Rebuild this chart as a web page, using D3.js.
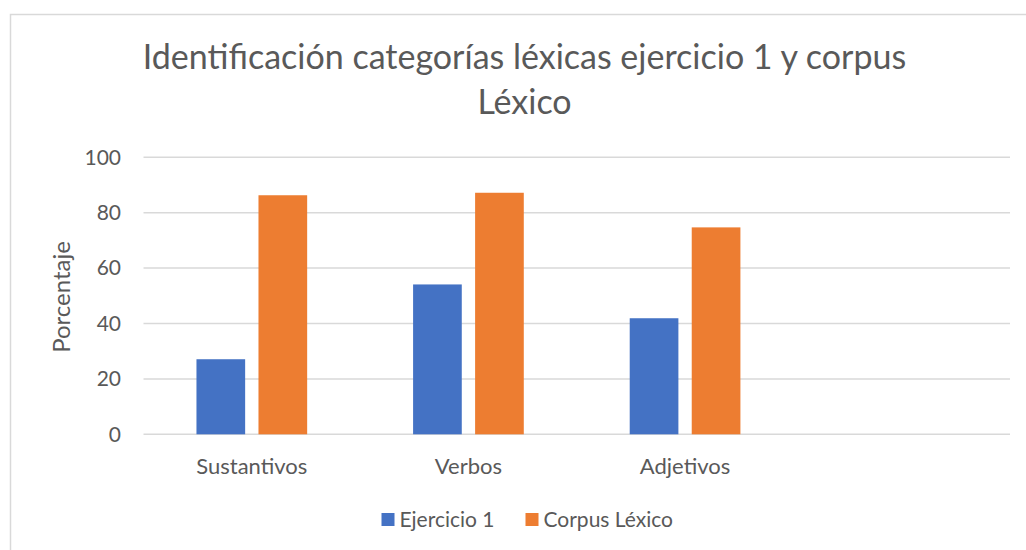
<!DOCTYPE html>
<html>
<head>
<meta charset="utf-8">
<script src="https://cdn.jsdelivr.net/npm/d3@7"></script>
<style>
  body { margin: 0; background: #fff; }
  text { font-family: Lato, "Open Sans", sans-serif; fill: #595959; }
</style>
</head>
<body>
<div id="chart"></div>
<script>
// chart data
const categories = ["Sustantivos", "Verbos", "Adjetivos", ""];
const seriesNames = ["Ejercicio 1", "Corpus Léxico"];
const ejercicio1 = [27.1, 54.1, 41.9, null];
const corpusLexico = [86.3, 87.2, 74.7, null];
const yTicks = [0, 20, 40, 60, 80, 100];
const colors = ["#4472C4", "#ED7D31"];

const W = 1026, H = 550;
const plot = { left: 143.5, right: 1010, top: 157.3, bottom: 434.3 };

const svg = d3.select("#chart").append("svg")
    .attr("width", W)
    .attr("height", H);

// outer chart border
svg.append("rect")
    .attr("x", 10.5).attr("y", 14.5)
    .attr("width", W + 10).attr("height", H)
    .attr("fill", "#fff")
    .attr("stroke", "#d9d9d9")
    .attr("stroke-width", 1.5);

const x0 = d3.scaleBand()
    .domain(categories.map((c, i) => i))
    .range([plot.left, plot.right])
    .padding(0);

// group of the two bars sits in the middle of each band
const groupWidth = x0.bandwidth() * 0.511;
const x1 = d3.scaleBand()
    .domain(seriesNames)
    .range([0, groupWidth])
    .paddingInner(0.215)
    .paddingOuter(0);

const y = d3.scaleLinear()
    .domain([0, 100])
    .range([plot.bottom, plot.top]);

// gridlines
svg.append("g").selectAll("line")
    .data(yTicks)
    .enter().append("line")
    .attr("x1", plot.left)
    .attr("x2", plot.right)
    .attr("y1", d => y(d))
    .attr("y2", d => y(d))
    .attr("stroke", "#d9d9d9")
    .attr("stroke-width", 1.5);

// y tick labels
svg.append("g").selectAll("text")
    .data(yTicks)
    .enter().append("text")
    .attr("x", 121)
    .attr("y", d => y(d))
    .attr("dy", "0.35em")
    .attr("text-anchor", "end")
    .style("font-size", "21px")
    .text(d => d);

// bars
const rows = categories.map((c, i) => ({
    i: i,
    values: [ejercicio1[i], corpusLexico[i]]
}));

const groups = svg.append("g").selectAll("g")
    .data(rows)
    .enter().append("g")
    .attr("transform", d => `translate(${x0(d.i) + (x0.bandwidth() - groupWidth) / 2},0)`);

groups.selectAll("rect")
    .data(d => d.values.map((v, k) => ({ key: seriesNames[k], v: v, k: k })).filter(e => e.v != null))
    .enter().append("rect")
    .attr("x", d => x1(d.key))
    .attr("width", x1.bandwidth())
    .attr("y", d => y(d.v))
    .attr("height", d => y(0) - y(d.v))
    .attr("fill", d => colors[d.k]);

// category labels
svg.append("g").selectAll("text")
    .data(categories)
    .enter().append("text")
    .attr("x", (d, i) => x0(i) + x0.bandwidth() / 2)
    .attr("y", 474)
    .attr("text-anchor", "middle")
    .style("font-size", "22px")
    .text(d => d);

// y axis title
svg.append("text")
    .attr("transform", "translate(70,297) rotate(-90)")
    .attr("text-anchor", "middle")
    .style("font-size", "24px")
    .text("Porcentaje");

// title
const title = svg.append("text")
    .attr("x", 524.5)
    .attr("text-anchor", "middle")
    .style("font-size", "34px");
title.append("tspan").attr("x", 524.5).attr("y", 69)
    .text("Identificación categorías léxicas ejercicio 1 y corpus");
title.append("tspan").attr("x", 524.5).attr("y", 114)
    .text("Léxico");

// legend
const legend = svg.append("g").attr("transform", "translate(381.5,0)");
const legendX = [0, 144];
seriesNames.forEach((name, k) => {
    const g = legend.append("g").attr("transform", `translate(${legendX[k]},0)`);
    g.append("rect")
        .attr("x", 0).attr("y", 513)
        .attr("width", 13).attr("height", 13)
        .attr("fill", colors[k]);
    g.append("text")
        .attr("x", 18)
        .attr("y", 519.5)
        .attr("dy", "0.35em")
        .style("font-size", "21px")
        .text(name);
});
</script>
</body>
</html>
